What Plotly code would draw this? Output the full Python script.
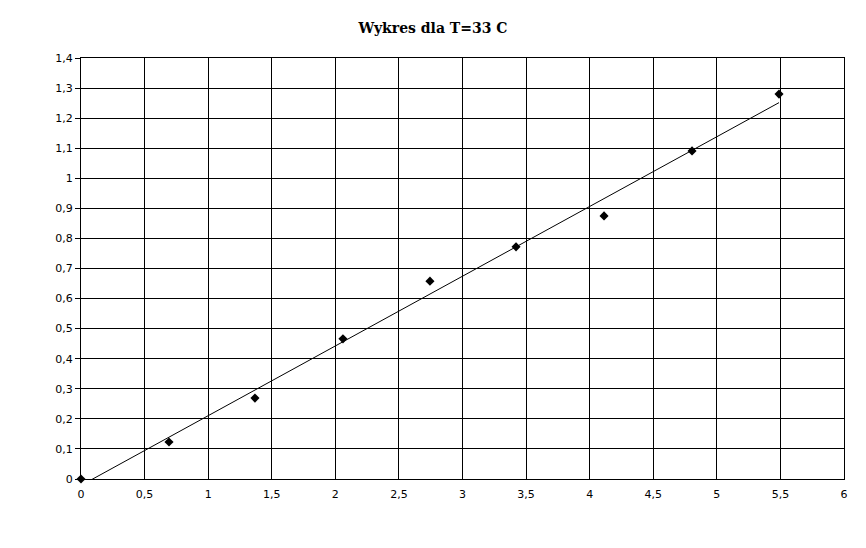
import numpy as np
import plotly.graph_objects as go

x_vals = [0, 0.692, 1.368, 2.060, 2.744, 3.421, 4.113, 4.805, 5.489]
y_vals = [0, 0.123, 0.269, 0.466, 0.658, 0.772, 0.875, 1.091, 1.280]

x_ticks = [0, 0.5, 1, 1.5, 2, 2.5, 3, 3.5, 4, 4.5, 5, 5.5, 6]
x_labels = ["0", "0,5", "1", "1,5", "2", "2,5", "3", "3,5", "4", "4,5", "5", "5,5", "6"]
y_ticks = [0, 0.1, 0.2, 0.3, 0.4, 0.5, 0.6, 0.7, 0.8, 0.9, 1, 1.1, 1.2, 1.3, 1.4]
y_labels = ["0", "0,1", "0,2", "0,3", "0,4", "0,5", "0,6", "0,7", "0,8", "0,9", "1", "1,1", "1,2", "1,3", "1,4"]

slope, intercept = np.polyfit(x_vals, y_vals, 1)
tx = [min(x_vals), max(x_vals)]
ty = [slope * v + intercept for v in tx]

fig = go.Figure()
fig.add_trace(go.Scatter(x=tx, y=ty, mode="lines",
                         line=dict(color="black", width=1), hoverinfo="skip"))
fig.add_trace(go.Scatter(x=x_vals, y=y_vals, mode="markers",
                         marker=dict(symbol="diamond", color="black", size=7),
                         cliponaxis=False))

fig.update_layout(
    width=858, height=540,
    margin=dict(l=73, r=22, t=50, b=69),
    paper_bgcolor="white", plot_bgcolor="white",
    showlegend=False,
    title=dict(text="<b>Wykres dla T=33 C</b>", x=(433 - 8) / 858, xanchor="center",
               y=1 - 20 / 540, yanchor="middle",
               font=dict(family="DejaVu Serif", size=14, color="black")),
    font=dict(family="DejaVu Sans", size=11, color="black"),
)
fig.update_xaxes(range=[0, 6], tickvals=x_ticks, ticktext=x_labels,
                 showgrid=True, gridcolor="black", gridwidth=1,
                 showline=True, linecolor="black", linewidth=1, mirror=True,
                 zeroline=False, ticks="", ticklen=0, ticklabelstandoff=5)
fig.update_yaxes(range=[0, 1.4], tickvals=y_ticks, ticktext=y_labels,
                 showgrid=True, gridcolor="black", gridwidth=1,
                 showline=True, linecolor="black", linewidth=1, mirror=True,
                 zeroline=False, ticks="outside", ticklen=5, tickcolor="black")

fig.write_html("out.html")
